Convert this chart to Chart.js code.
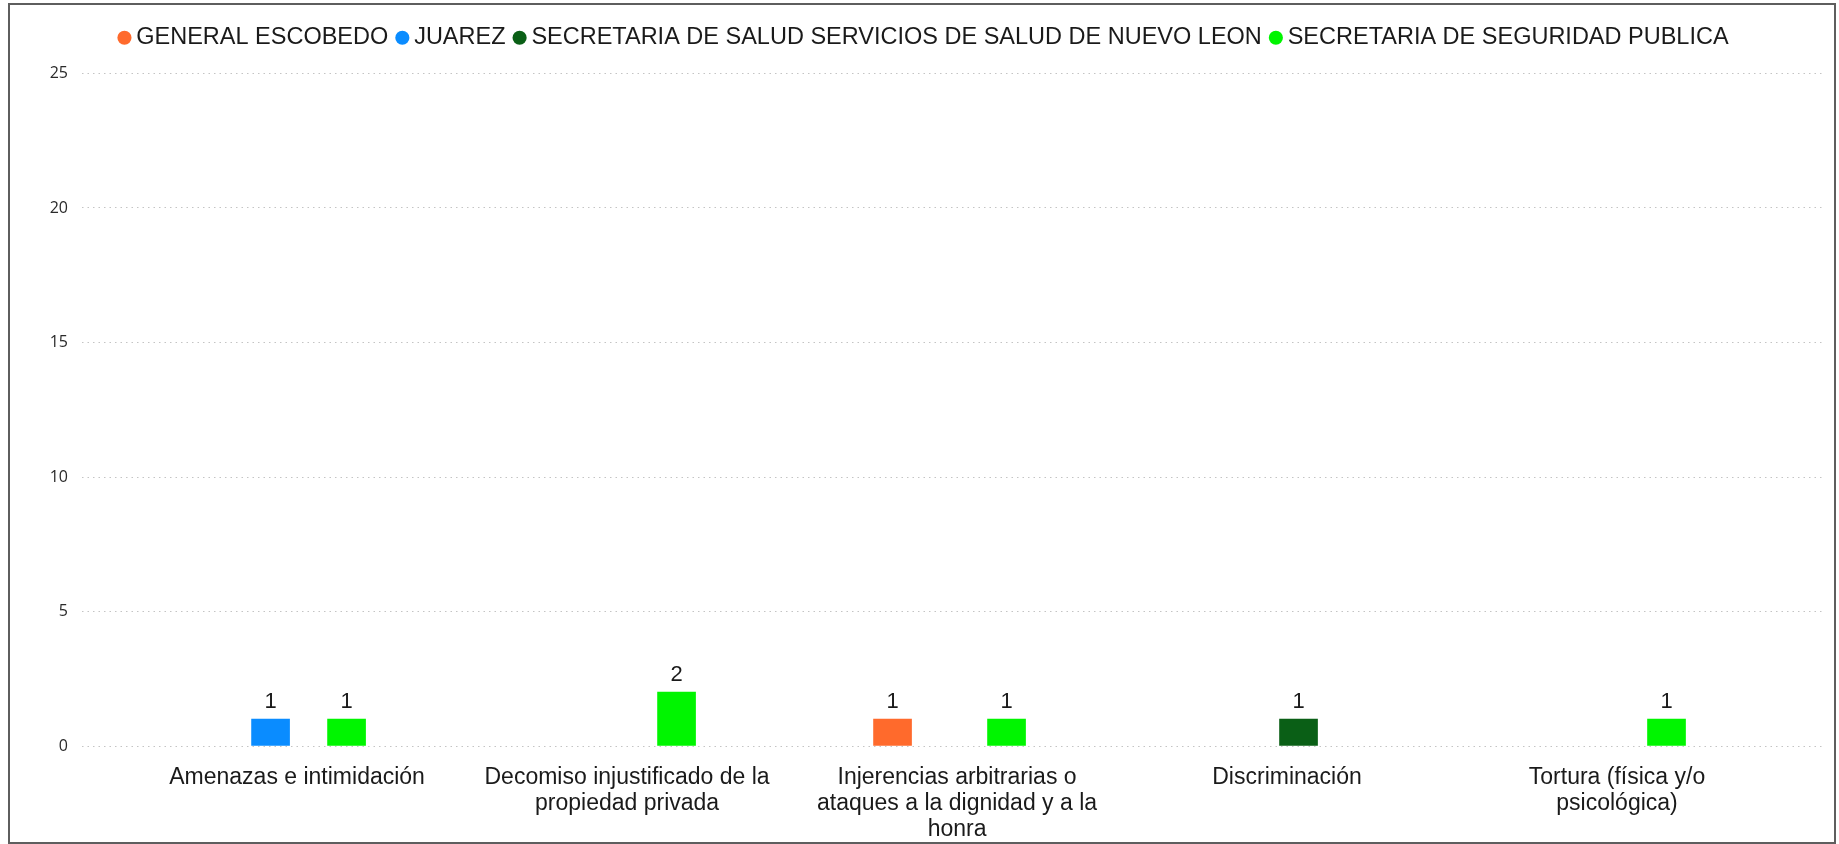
<!DOCTYPE html>
<html>
<head>
<meta charset="utf-8">
<script src="https://cdn.jsdelivr.net/npm/chart.js@4.4.1/dist/chart.umd.min.js"></script>
<style>
  html, body { margin: 0; padding: 0; background: #ffffff; }
  #frame { position: absolute; left: 8px; top: 3px; width: 1828px; height: 841px;
           border: 2px solid #5e5e5e; box-sizing: border-box; background: #fff; }
  #chart { display: block; }
</style>
</head>
<body>
<div id="frame"><canvas id="chart" width="1824" height="837"></canvas></div>
<script>
// ---- data ----
const categories = [
  "Amenazas e intimidación",
  ["Decomiso injustificado de la", "propiedad privada"],
  ["Injerencias arbitrarias o", "ataques a la dignidad y a la", "honra"],
  "Discriminación",
  ["Tortura (física y/o", "psicológica)"]
];
const seriesNames = [
  "GENERAL ESCOBEDO",
  "JUAREZ",
  "SECRETARIA DE SALUD SERVICIOS DE SALUD DE NUEVO LEON",
  "SECRETARIA DE SEGURIDAD PUBLICA"
];
const generalEscobedo = [null, null, 1, null, null];
const juarez          = [1, null, null, null, null];
const secSalud        = [null, null, null, 1, null];
const secSeguridad    = [1, 2, 1, null, 1];
const yTicks = [0, 5, 10, 15, 20, 25];
const seriesColors = ["#FF6A2C", "#0A8CFF", "#0A5F16", "#00F500"];

const seriesValues = [generalEscobedo, juarez, secSalud, secSeguridad];

const valueLabels = {
  id: 'valueLabels',
  afterDatasetsDraw(chart) {
    const ctx = chart.ctx;
    ctx.save();
    ctx.font = '22px "Liberation Sans", Arial, sans-serif';
    ctx.fillStyle = '#1a1a1a';
    ctx.textAlign = 'center';
    ctx.textBaseline = 'alphabetic';
    chart.data.datasets.forEach((ds, di) => {
      const meta = chart.getDatasetMeta(di);
      if (meta.hidden) return;
      meta.data.forEach((el, i) => {
        const v = ds.data[i];
        if (v === null || v === undefined) return;
        ctx.fillText(String(v), el.x, el.y - 11);
      });
    });
    ctx.restore();
  }
};

const legendTweak = {
  id: 'legendTweak',
  beforeInit(chart) {
    const lg = chart.legend;
    if (!lg) return;
    const fit = lg.fit;
    lg.fit = function () { fit.call(this); this.height += 14; };
    const draw = lg.draw;
    lg.draw = function () {
      const ctx = this.ctx;
      ctx.save();
      ctx.translate(9, 0);
      draw.call(this);
      ctx.restore();
    };
  }
};

new Chart(document.getElementById('chart'), {
  type: 'bar',
  data: {
    labels: categories,
    datasets: seriesNames.map((name, k) => ({
      label: name,
      data: seriesValues[k],
      backgroundColor: seriesColors[k],
      borderWidth: 0,
      barThickness: 38
    }))
  },
  options: {
    responsive: false,
    animation: false,
    devicePixelRatio: 1,
    layout: { padding: { left: 0, right: 9, top: 7, bottom: 2 } },
    plugins: {
      legend: {
        display: true,
        position: 'top',
        align: 'center',
        labels: {
          usePointStyle: true,
          pointStyle: 'circle',
          boxWidth: 0.1,
          boxHeight: 10,
          padding: 14,
          color: '#1a1a1a',
          font: { family: '"Liberation Sans", Arial, sans-serif', size: 23.5 }
        }
      },
      tooltip: { enabled: false }
    },
    scales: {
      x: {
        offset: true,
        grid: { display: false },
        border: { display: false },
        afterBuildTicks(scale) {
          scale._startValue = -0.629;
          scale._valueRange = 5.282;
        },
        afterFit(scale) { scale.height = 94; },
        ticks: {
          autoSkip: false,
          maxRotation: 0,
          minRotation: 0,
          padding: 11,
          labelOffset: 7.5,
          color: '#1a1a1a',
          font: { family: '"Liberation Sans", Arial, sans-serif', size: 23, lineHeight: 1.13 }
        }
      },
      y: {
        min: 0,
        max: 25,
        afterFit(scale) { scale.width = 72; },
        afterBuildTicks(scale) { scale.ticks = yTicks.map(v => ({ value: v })); },
        grid: {
          drawTicks: false,
          color: '#c4c4c4',
          lineWidth: 1
        },
        border: { display: false, dash: [1.5, 4] },
        ticks: {
          padding: 14,
          color: '#2a2a2a',
          font: { family: '"Open Sans", "Noto Sans", sans-serif', size: 16 }
        }
      }
    }
  },
  plugins: [valueLabels, legendTweak]
});
</script>
</body>
</html>
